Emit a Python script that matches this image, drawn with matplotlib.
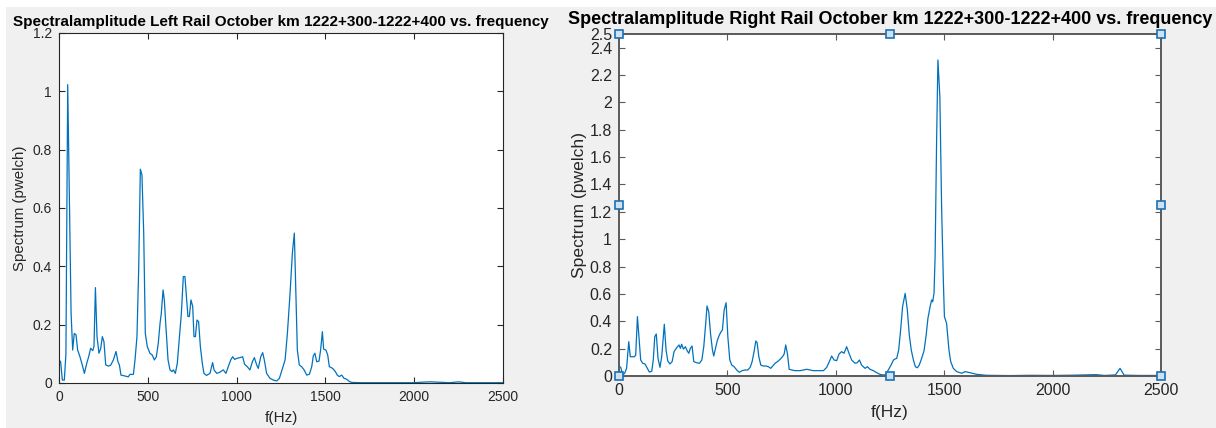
"""Welch spectra of left/right rail vibration, October run, km 1222+300-1222+400."""
import matplotlib
matplotlib.use("Agg")
import matplotlib.pyplot as plt
from matplotlib.patches import Rectangle

plt.rcParams["font.family"] = ["Liberation Sans", "DejaVu Sans"]

# left rail spectrum (f in Hz, pwelch amplitude)
left_f = [0, 9, 19, 30, 39, 49, 58, 68, 77, 86, 96, 105, 118, 131, 143, 156, 167,
          178, 190, 197, 205, 214, 225, 235, 244, 253, 263, 278, 291, 306, 321, 332,
          340, 349, 372, 390, 400, 411, 419, 428, 439, 449, 458, 467, 477, 486, 497,
          512, 525, 537, 548, 559, 569, 576, 586, 593, 602, 614, 625, 636, 644, 655,
          666, 678, 689, 700, 709, 719, 726, 734, 743, 753, 760, 768, 777, 786, 796,
          807, 816, 831, 850, 865, 873, 888, 906, 925, 940, 953, 967, 978, 989, 1004,
          1019, 1034, 1045, 1060, 1075, 1089, 1100, 1113, 1122, 1136, 1147, 1156,
          1169, 1188, 1207, 1226, 1241, 1256, 1273, 1286, 1301, 1314, 1325, 1333,
          1342, 1353, 1366, 1380, 1395, 1410, 1423, 1432, 1441, 1451, 1464, 1473,
          1483, 1490, 1503, 1513, 1522, 1541, 1556, 1567, 1578, 1592, 1605, 1620,
          1635, 1648, 1700, 1800, 1900, 2000, 2050, 2090, 2130, 2200, 2250, 2290,
          2400, 2500]
left_amp = [0.079, 0.073, 0.010, 0.010, 0.100, 1.023, 0.650, 0.240, 0.113, 0.170,
            0.165, 0.113, 0.090, 0.062, 0.033, 0.067, 0.090, 0.119, 0.111, 0.125,
            0.327, 0.159, 0.102, 0.119, 0.159, 0.142, 0.062, 0.058, 0.061, 0.079,
            0.108, 0.073, 0.062, 0.027, 0.024, 0.021, 0.030, 0.029, 0.030, 0.079,
            0.159, 0.399, 0.733, 0.714, 0.514, 0.170, 0.125, 0.102, 0.096, 0.079,
            0.090, 0.136, 0.205, 0.239, 0.319, 0.285, 0.193, 0.079, 0.045, 0.039,
            0.045, 0.033, 0.067, 0.159, 0.239, 0.365, 0.365, 0.285, 0.228, 0.228,
            0.285, 0.262, 0.159, 0.159, 0.216, 0.210, 0.125, 0.067, 0.033, 0.026,
            0.033, 0.070, 0.045, 0.033, 0.037, 0.045, 0.033, 0.056, 0.079, 0.090,
            0.081, 0.085, 0.087, 0.090, 0.064, 0.056, 0.045, 0.073, 0.087, 0.062,
            0.050, 0.090, 0.104, 0.079, 0.033, 0.016, 0.010, 0.007, 0.016, 0.045,
            0.079, 0.170, 0.308, 0.445, 0.514, 0.331, 0.113, 0.062, 0.056, 0.045,
            0.027, 0.030, 0.056, 0.093, 0.102, 0.073, 0.075, 0.113, 0.176, 0.116,
            0.113, 0.096, 0.056, 0.050, 0.039, 0.027, 0.022, 0.027, 0.016, 0.013,
            0.005, 0.002, 0.001, 0.001, 0.001, 0.001, 0.003, 0.004, 0.003, 0.001,
            0.004, 0.001, 0.001, 0.001]

# right rail spectrum
right_f = [0, 8, 17, 26, 35, 45, 52, 60, 71, 77, 85, 92, 100, 109, 120, 131, 140,
           151, 158, 165, 172, 180, 189, 197, 209, 217, 225, 235, 245, 254, 266, 277,
           283, 289, 297, 306, 315, 322, 329, 337, 345, 358, 371, 382, 391, 400, 406,
           414, 422, 431, 437, 445, 454, 463, 471, 477, 485, 494, 502, 511, 520, 531,
           543, 555, 568, 582, 594, 605, 614, 623, 631, 637, 645, 654, 666, 678, 689,
           700, 709, 720, 731, 743, 754, 762, 769, 777, 785, 797, 812, 835, 866, 896,
           943, 958, 970, 981, 992, 1004, 1015, 1027, 1038, 1050, 1061, 1073, 1089,
           1099, 1109, 1119, 1135, 1146, 1158, 1173, 1189, 1204, 1220, 1232, 1242,
           1255, 1266, 1273, 1281, 1290, 1299, 1308, 1320, 1330, 1339, 1348, 1358,
           1367, 1376, 1385, 1396, 1407, 1416, 1425, 1435, 1442, 1447, 1453, 1458,
           1465, 1471, 1480, 1488, 1496, 1501, 1511, 1522, 1530, 1542, 1558, 1581,
           1596, 1619, 1650, 1696, 1800, 1900, 2000, 2100, 2200, 2240, 2290, 2311,
           2330, 2400, 2500]
right_amp = [0.073, 0.063, 0.007, 0.020, 0.056, 0.251, 0.141, 0.141, 0.141, 0.153,
             0.434, 0.288, 0.117, 0.093, 0.088, 0.056, 0.029, 0.034, 0.117, 0.288,
             0.307, 0.129, 0.063, 0.141, 0.378, 0.190, 0.110, 0.088, 0.105, 0.178,
             0.207, 0.227, 0.202, 0.232, 0.197, 0.214, 0.183, 0.166, 0.202, 0.219,
             0.105, 0.097, 0.093, 0.117, 0.214, 0.385, 0.512, 0.470, 0.312, 0.190,
             0.146, 0.202, 0.263, 0.300, 0.324, 0.336, 0.482, 0.536, 0.288, 0.117,
             0.080, 0.068, 0.044, 0.027, 0.039, 0.044, 0.044, 0.063, 0.105, 0.178,
             0.256, 0.244, 0.141, 0.080, 0.073, 0.073, 0.068, 0.056, 0.073, 0.093,
             0.105, 0.122, 0.141, 0.161, 0.227, 0.161, 0.049, 0.044, 0.039, 0.039,
             0.049, 0.039, 0.039, 0.063, 0.105, 0.146, 0.117, 0.112, 0.161, 0.178,
             0.166, 0.214, 0.166, 0.117, 0.093, 0.097, 0.117, 0.080, 0.056, 0.068,
             0.049, 0.039, 0.024, 0.012, 0.007, 0.012, 0.044, 0.080, 0.117, 0.124,
             0.129, 0.190, 0.336, 0.507, 0.604, 0.482, 0.300, 0.190, 0.117, 0.068,
             0.060, 0.080, 0.129, 0.185, 0.288, 0.422, 0.507, 0.556, 0.543, 0.604,
             0.872, 1.725, 2.310, 2.040, 1.238, 0.700, 0.434, 0.385, 0.190, 0.105,
             0.056, 0.032, 0.020, 0.032, 0.024, 0.012, 0.005, 0.003, 0.005, 0.004,
             0.006, 0.010, 0.004, 0.008, 0.056, 0.006, 0.004, 0.004]

left_yticks = [0, 0.2, 0.4, 0.6, 0.8, 1, 1.2]
right_yticks = [0, 0.2, 0.4, 0.6, 0.8, 1, 1.2, 1.4, 1.6, 1.8, 2, 2.2, 2.4, 2.5]
xticks = [0, 500, 1000, 1500, 2000, 2500]

LINE = "#0072bd"
TXT = "#262626"


def style_axes(ax, ylim, yticks, fs, spine_c, spine_w):
    ax.set_xlim(0, 2500); ax.set_ylim(*ylim)
    ax.set_xticks(xticks); ax.set_yticks(yticks)
    ax.set_xticklabels([f"{t:g}" for t in xticks])
    ax.set_yticklabels([f"{t:g}" for t in yticks])
    ax.tick_params(direction="in", top=True, right=True, length=4, width=0.8,
                   labelsize=fs, labelcolor=TXT, color=spine_c, pad=5)
    for s in ax.spines.values():
        s.set_color(spine_c); s.set_linewidth(spine_w)


fig = plt.figure(figsize=(12.16, 4.28), dpi=100, facecolor="white")
fig.patches.append(Rectangle((6 / 1216, 0), 1, 421 / 428, transform=fig.transFigure,
                             facecolor="#f0f0f0", edgecolor="none", zorder=-1))

axl = fig.add_axes([59 / 1216, 45 / 428, 444 / 1216, 350 / 428])
axl.plot(left_f, left_amp, color=LINE, lw=0.9)
style_axes(axl, (0, 1.2), left_yticks, 10, "#262626", 0.8)
axl.set_title("Spectralamplitude Left Rail October km 1222+300-1222+400 vs. frequency",
              fontsize=11, fontweight="bold", color="black", pad=5)
axl.set_xlabel("f(Hz)", fontsize=11, color=TXT, labelpad=5)
axl.set_ylabel("Spectrum (pwelch)", fontsize=10.8, color=TXT, labelpad=4)

axr = fig.add_axes([619 / 1216, 52 / 428, 542 / 1216, 342 / 428])
axr.plot(right_f, right_amp, color=LINE, lw=0.9)
style_axes(axr, (0, 2.5), right_yticks, 11.5, "#5a5a5a", 1.4)
axr.set_title("Spectralamplitude Right Rail October km 1222+300-1222+400 vs. frequency",
              fontsize=13, fontweight="bold", color="black", pad=7)
axr.set_xlabel("f(Hz)", fontsize=12.5, color=TXT, labelpad=5)
axr.set_ylabel("Spectrum (pwelch)", fontsize=12.6, color=TXT, labelpad=2)

# selection handles on the right axes box
hx = [0, 0.5, 1, 0, 1, 0, 0.5, 1]
hy = [0, 0, 0, 0.5, 0.5, 1, 1, 1]
axr.plot(hx, hy, ls="none", marker="s", ms=6, mfc="#cde2f4", mec="#1f6fb0", mew=1.2,
         transform=axr.transAxes, clip_on=False, zorder=5)

fig.savefig("out.png", dpi=100, facecolor=fig.get_facecolor())
